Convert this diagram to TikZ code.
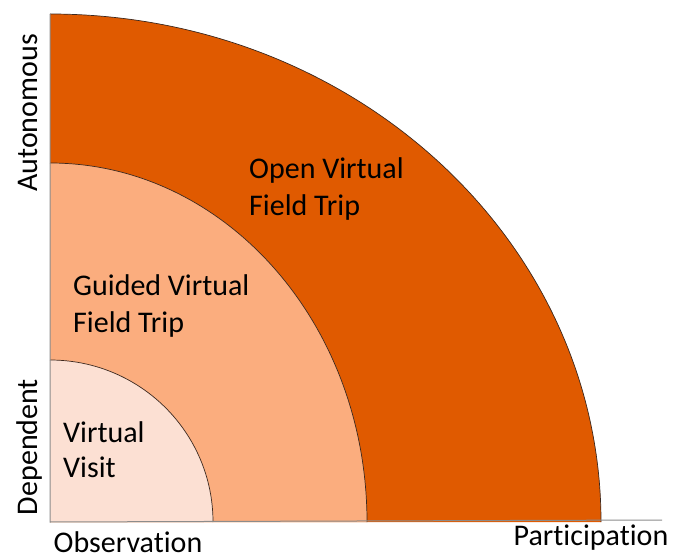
\documentclass[tikz,border=0pt]{standalone}
\usepackage{fontspec}
\setmainfont[Ligatures=NoCommon]{Carlito}
\definecolor{outerc}{RGB}{224,90,0}
\definecolor{midc}{RGB}{251,173,126}
\definecolor{innerc}{RGB}{252,224,211}
\definecolor{edgec}{RGB}{60,40,30}
\definecolor{axisc}{RGB}{140,140,140}
\begin{document}
\begin{tikzpicture}[x=1pt,y=1pt,
  region/.style={draw=edgec,line width=0.7pt},
  lbl/.style={font=\fontsize{30}{37}\selectfont,anchor=base west,inner sep=0pt,align=left},
  axlbl/.style={font=\fontsize{30}{37}\selectfont,anchor=base,inner sep=0pt},
  axisline/.style={draw=axisc,line width=1pt}]
\useasboundingbox (0,0) rectangle (675,558);
\coordinate (O) at (50,36);
\coordinate (xend) at (662,38);
\coordinate (ytop) at (50,544);
% regions
\fill[outerc] (O) -- ++(551,0) arc[start angle=0,end angle=90,x radius=551,y radius=508] -- cycle;
\draw[region] (O) ++(551,0) arc[start angle=0,end angle=90,x radius=551,y radius=508];
\fill[midc] (O) -- ++(317,0) arc[start angle=0,end angle=90,x radius=317,y radius=359] -- cycle;
\draw[region] (O) ++(317,0) arc[start angle=0,end angle=90,x radius=317,y radius=359];
\fill[innerc] (O) -- ++(163,0) arc[start angle=0,end angle=90,x radius=163,y radius=162] -- cycle;
\draw[region] (O) ++(163,0) arc[start angle=0,end angle=90,x radius=163,y radius=162];
% axes
\draw[axisline] (ytop) -- (O) -- (xend);
% labels
\node[lbl] (open1) at (249,379) {Open Virtual};
\node[lbl] (open2) at (249,342) {Field Trip};
\node[lbl] (guid1) at (73,263) {Guided Virtual};
\node[lbl] (guid2) at (73,226) {Field Trip};
\node[lbl] (vis1) at (63,116) {Virtual};
\node[lbl] (vis2) at (63,81) {Visit};
\node[axlbl] (obs) at (128,6) {Observation};
\node[axlbl] (par) at (591,13) {Participation};
\node[axlbl,rotate=90] (aut) at (37,445) {Autonomous};
\node[axlbl,rotate=90] (dep) at (37,111) {Dependent};
\end{tikzpicture}
\end{document}
